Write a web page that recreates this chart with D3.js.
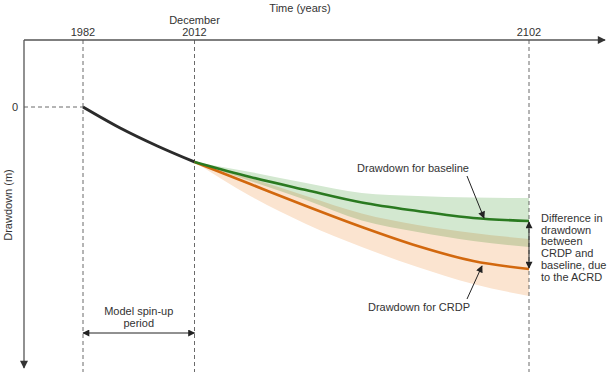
<!DOCTYPE html>
<html>
<head>
<meta charset="utf-8">
<script src="https://cdn.jsdelivr.net/npm/d3@7"></script>
<style>
  body { margin: 0; background: #fff; }
  text { font-family: "Liberation Sans", Arial, sans-serif; fill: #333; }
</style>
</head>
<body>
<svg id="chart" width="613" height="385"></svg>
<script>
// time marks on the top axis
const tickYears = [1982, 2012, 2102];
const tickLabels = [["1982"], ["December", "2012"], ["2102"]];

// historical drawdown (1982 -> Dec 2012)
const histYears = [1982, 1992, 2002, 2012];
const histDrawdown = [0, 21, 39, 55];

// projections (2012 -> 2102)
const projYears = [2012, 2027, 2042, 2057, 2072, 2087, 2102];
const baseline = [55, 70, 83, 95.5, 104, 111, 114];
const baselineLow = [55, 65, 76, 86, 89, 90.5, 91];
const baselineHigh = [55, 74, 93, 113.5, 125, 134, 140];
const crdp = [55, 77, 99, 120, 139, 154, 162];
const crdpLow = [55, 71, 89, 106.5, 118, 126, 132];
const crdpHigh = [55, 89, 117, 140, 160, 177, 189];

const svg = d3.select("#chart");
const axisLeft = 24, axisTop = 40, axisRight = 605, axisBottom = 368;

const x = d3.scaleLinear().domain([1982, 2102]).range([83, 529]);
const y = d3.scaleLinear().domain([0, 100]).range([107, 207]);

// markers
const defs = svg.append("defs");
function marker(id, color, w, h) {
    defs.append("marker")
        .attr("id", id)
        .attr("viewBox", "0 0 10 10")
        .attr("refX", 9).attr("refY", 5)
        .attr("markerWidth", w).attr("markerHeight", h)
        .attr("markerUnits", "userSpaceOnUse")
        .attr("orient", "auto-start-reverse")
        .append("path")
        .attr("d", "M0,0 L10,5 L0,10 Z")
        .attr("fill", color);
}
marker("axisArrow", "#333", 11, 8);
marker("arrow", "#222", 9, 7);

// uncertainty bands
const band = (lo, hi) => d3.area()
    .x((d, i) => x(projYears[i]))
    .y0((d, i) => y(lo[i]))
    .y1((d, i) => y(hi[i]))
    .curve(d3.curveMonotoneX);

const bands = svg.append("g").style("isolation", "isolate");
bands.append("path")
    .datum(projYears)
    .attr("d", band(crdpLow, crdpHigh))
    .attr("fill", "#fbe4d0");

bands.append("path")
    .datum(projYears)
    .attr("d", band(baselineLow, baselineHigh))
    .attr("fill", "#d3e8d0")
    .style("mix-blend-mode", "multiply");

// dashed guides
svg.selectAll("line.guide")
    .data(tickYears)
    .join("line")
    .attr("class", "guide")
    .attr("x1", d => x(d)).attr("x2", d => x(d))
    .attr("y1", axisTop).attr("y2", 372)
    .attr("stroke", "#444")
    .attr("stroke-width", 0.8)
    .attr("stroke-dasharray", "4,3");

svg.append("line")
    .attr("x1", axisLeft).attr("x2", x(1982))
    .attr("y1", y(0)).attr("y2", y(0))
    .attr("stroke", "#444")
    .attr("stroke-width", 0.8)
    .attr("stroke-dasharray", "4,3");

// axes
svg.append("line")
    .attr("x1", axisLeft).attr("x2", axisRight)
    .attr("y1", axisTop).attr("y2", axisTop)
    .attr("stroke", "#555").attr("stroke-width", 1.3)
    .attr("marker-end", "url(#axisArrow)");
svg.append("line")
    .attr("x1", axisLeft).attr("x2", axisLeft)
    .attr("y1", axisTop).attr("y2", axisBottom)
    .attr("stroke", "#555").attr("stroke-width", 1.3)
    .attr("marker-end", "url(#axisArrow)");

// tick labels
tickYears.forEach((yr, i) => {
    const lines = tickLabels[i];
    lines.forEach((t, j) => {
        svg.append("text")
            .attr("x", x(yr))
            .attr("y", 36 - (lines.length - 1 - j) * 12.5)
            .attr("text-anchor", "middle")
            .style("font-size", "11px")
            .text(t);
    });
});
svg.append("text")
    .attr("x", 15).attr("y", y(0) + 4)
    .attr("text-anchor", "middle")
    .style("font-size", "11px")
    .text("0");

svg.append("text")
    .attr("x", 300).attr("y", 12)
    .attr("text-anchor", "middle")
    .style("font-size", "11px")
    .text("Time (years)");

svg.append("text")
    .attr("transform", "translate(12,205) rotate(-90)")
    .attr("text-anchor", "middle")
    .style("font-size", "11px")
    .text("Drawdown (m)");

// lines
const line = d3.line().curve(d3.curveMonotoneX);

svg.append("path")
    .attr("d", line(histYears.map((d, i) => [x(d), y(histDrawdown[i])])))
    .attr("fill", "none").attr("stroke", "#2b2b2b").attr("stroke-width", 3);

svg.append("path")
    .attr("d", line(projYears.map((d, i) => [x(d), y(crdp[i])])))
    .attr("fill", "none").attr("stroke", "#d2680e").attr("stroke-width", 2.6);

svg.append("path")
    .attr("d", line(projYears.map((d, i) => [x(d), y(baseline[i])])))
    .attr("fill", "none").attr("stroke", "#2a7a20").attr("stroke-width", 2.6);

// annotations
function label(lines, px, py, anchor, gap) {
    lines.forEach((t, j) => {
        svg.append("text")
            .attr("x", px).attr("y", py + j * gap)
            .attr("text-anchor", anchor)
            .style("font-size", "11px")
            .text(t);
    });
}
function arrow(x1, y1, x2, y2, both) {
    const l = svg.append("line")
        .attr("x1", x1).attr("y1", y1).attr("x2", x2).attr("y2", y2)
        .attr("stroke", "#222").attr("stroke-width", 1)
        .attr("marker-end", "url(#arrow)");
    if (both) l.attr("marker-start", "url(#arrow)");
}

label(["Drawdown for baseline"], 413, 172, "middle", 0);
arrow(467, 176, 484, 218, false);

label(["Drawdown for CRDP"], 419, 311, "middle", 0);
arrow(467, 299, 482, 266, false);

const xEnd = x(2102);
arrow(xEnd, y(baseline[baseline.length - 1]) + 1, xEnd, y(crdp[crdp.length - 1]) - 1, true);
label(["Difference in", "drawdown", "between", "CRDP and", "baseline, due", "to the ACRD"], 541, 222, "start", 11.7);

label(["Model spin-up", "period"], (x(1982) + x(2012)) / 2, 315, "middle", 11.5);
arrow(x(1982), 333, x(2012), 333, true);
</script>
</body>
</html>
